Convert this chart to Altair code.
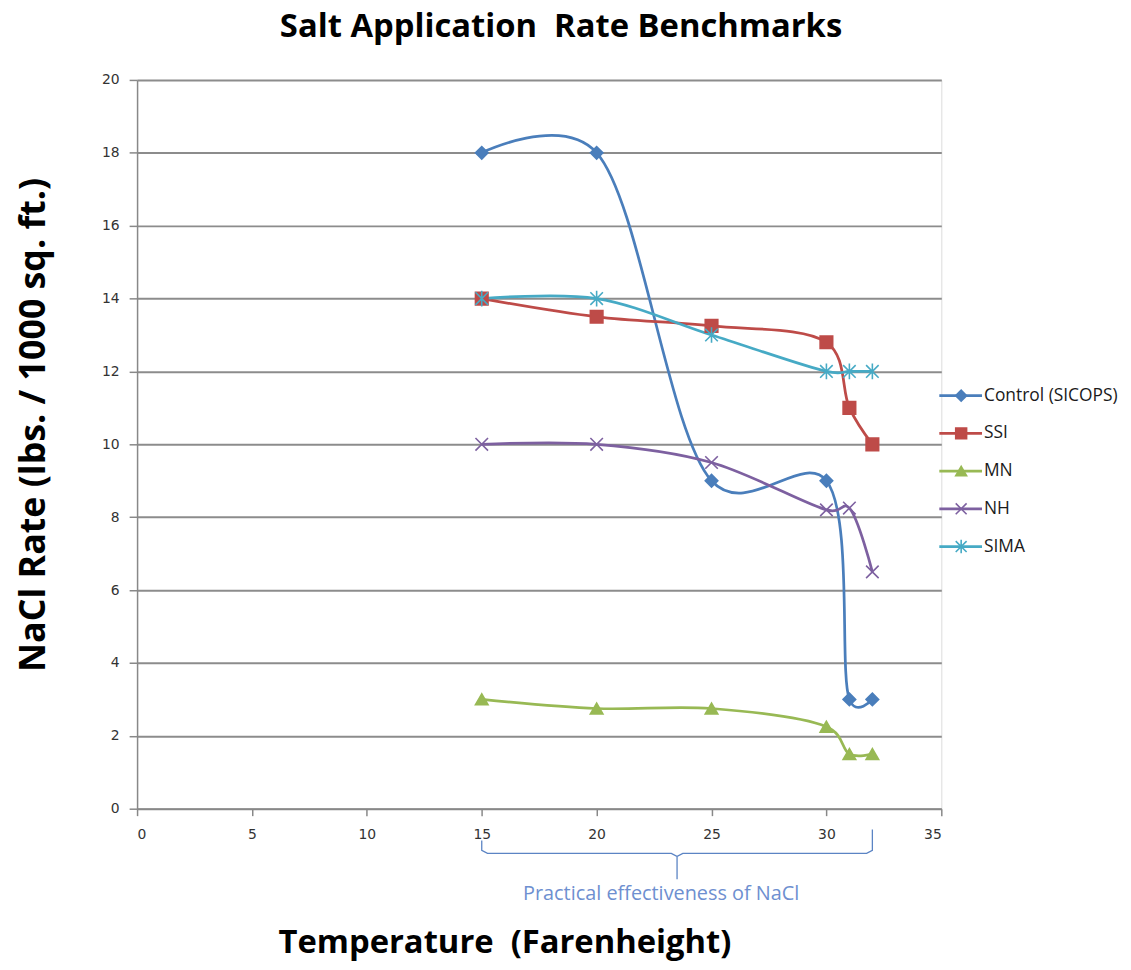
import altair as alt
import pandas as pd

# ---- data ----
temps = [15, 20, 25, 30, 31, 32]
series_names = ["Control (SICOPS)", "SSI", "MN", "NH", "SIMA"]
control = [18, 18, 9, 9, 3, 3]
ssi = [14, 13.5, 13.25, 12.8, 11, 10]
mn = [3, 2.75, 2.75, 2.25, 1.5, 1.5]
nh = [10, 10, 9.5, 8.2, 8.25, 6.5]
sima = [14, 14, 13, 12, 12, 12]
x_ticks = [0, 5, 10, 15, 20, 25, 30, 35]
y_ticks = [0, 2, 4, 6, 8, 10, 12, 14, 16, 18, 20]
annotation_text = "Practical effectiveness of NaCl"

colors = ["#4A7EBB", "#BE4B48", "#98B954", "#7D60A0", "#46AAC5"]
shapes = [
    "diamond",
    "square",
    "triangle-up",
    "M-1,-1L1,1M-1,1L1,-1",
    "M-1,-1L1,1M-1,1L1,-1M0,-1.25L0,1.25",
]

rows = []
for name, vals in zip(series_names, [control, ssi, mn, nh, sima]):
    for i, (t, v) in enumerate(zip(temps, vals)):
        rows.append({"series": name, "temp": t, "rate": v, "order": i})
df = pd.DataFrame(rows)

color_scale = alt.Scale(domain=series_names, range=colors)
shape_scale = alt.Scale(domain=series_names, range=shapes)

W, H = 810, 734
TITLE_FONT = "Open Sans"

base = alt.Chart(df)

x_enc = alt.X(
    "temp:Q",
    scale=alt.Scale(domain=[0, 35], nice=False, zero=False),
    axis=alt.Axis(
        values=x_ticks,
        grid=False,
        title="Temperature\u00a0 (Farenheight)",
        titleFont=TITLE_FONT,
        titleFontWeight="bold",
        titleFontSize=33,
        titleColor="#000000",
        titleX=370,
        titleY=145,
        titleAlign="center",
        titleAnchor="start",
        titleBaseline="alphabetic",
        labelFont="DejaVu Sans",
        labelFontSize=14,
        labelColor="#333333",
        tickSize=7,
        labelPadding=12,
        domainColor="#888888",
        tickColor="#888888",
        domainWidth=1.5,
        tickWidth=1.5,
    ),
)
y_enc = alt.Y(
    "rate:Q",
    scale=alt.Scale(domain=[0, 20], nice=False),
    axis=alt.Axis(
        values=y_ticks,
        grid=True,
        gridColor="#8C8C8C",
        gridWidth=2,
        title="NaCl Rate (lbs. / 1000 sq. ft.)",
        titleFont=TITLE_FONT,
        titleFontWeight="bold",
        titleFontSize=36,
        titleColor="#000000",
        titleAngle=-90,
        titleX=-93,
        titleY=347,
        titleAlign="center",
        titleAnchor="start",
        titleBaseline="alphabetic",
        labelFont="DejaVu Sans",
        labelFontSize=14,
        labelColor="#333333",
        tickSize=8,
        labelPadding=10,
        domainColor="#888888",
        tickColor="#888888",
        domainWidth=1.5,
        tickWidth=1.5,
    ),
)

lines = base.mark_line(interpolate="catmull-rom", tension=0.2, strokeWidth=2.75).encode(
    x=x_enc,
    y=y_enc,
    color=alt.Color("series:N", scale=color_scale, legend=None),
    order="order:Q",
)

points = base.mark_point(filled=False, opacity=1, strokeWidth=1.6, size=160).encode(
    x="temp:Q",
    y="rate:Q",
    color=alt.Color("series:N", scale=color_scale, legend=None),
    fill=alt.Fill("series:N", scale=color_scale, legend=None),
    shape=alt.Shape("series:N", scale=shape_scale, legend=None),
)

data_layer = alt.layer(lines, points)

# ---- manual legend (line + marker) ----
leg_df = pd.DataFrame({"series": series_names})
leg_y = alt.Y(
    "series:N",
    scale=alt.Scale(type="point", domain=series_names, range=[318, 470], padding=0),
    axis=None,
)
leg_base = alt.Chart(leg_df)
leg_rule = leg_base.mark_rule(strokeWidth=2.75).encode(
    x=alt.value(808), x2=alt.value(851), y=leg_y,
    color=alt.Color("series:N", scale=color_scale, legend=None),
)
leg_pts = leg_base.mark_point(filled=False, opacity=1, strokeWidth=1.6, size=120).encode(
    x=alt.value(830), y=leg_y,
    color=alt.Color("series:N", scale=color_scale, legend=None),
    fill=alt.Fill("series:N", scale=color_scale, legend=None),
    shape=alt.Shape("series:N", scale=shape_scale, legend=None),
)
leg_text = leg_base.mark_text(
    align="left", baseline="middle", font="Open Sans", fontSize=17.5, color="#1a1a1a"
).encode(x=alt.value(853), y=leg_y, text="series:N")

legend = alt.layer(leg_rule, leg_pts, leg_text)

# ---- brace annotation under the x-axis ----
x_lo, x_hi = min(temps), max(temps)
x_mid = (x_lo + x_hi) / 2
brace_df = pd.DataFrame(
    {
        "temp": [x_lo, x_lo, x_lo + 0.25, x_mid - 0.25, x_mid, x_mid, x_mid, x_mid + 0.25,
                 x_hi - 0.25, x_hi, x_hi],
        "off": [32, 42, 45, 45, 48, 71, 48, 45, 45, 42, 21],
        "k": list(range(11)),
    }
)
brace = alt.Chart(brace_df).transform_calculate(py="datum.off + %d" % H).mark_line(
    color="#5B84C4", strokeWidth=1.3
).encode(
    x="temp:Q",
    y=alt.Y("py:Q", scale=None, axis=None),
    order="k:Q",
)
ann_df = pd.DataFrame({"temp": [x_mid], "off": [92], "label": [annotation_text]})
ann = alt.Chart(ann_df).transform_calculate(py="datum.off + %d" % H).mark_text(
    font="Open Sans",
    fontSize=20,
    color="#6E8FD0",
    baseline="alphabetic",
    align="center",
    dx=-16,
).encode(
    x="temp:Q",
    y=alt.Y("py:Q", scale=None, axis=None),
    text="label:N",
)

chart = (
    alt.layer(data_layer, brace, ann, legend)
    .resolve_scale(y="independent")
    .properties(
        width=W,
        height=H,
        autosize=alt.AutoSizeParams(type="none"),
        padding={"left": 130, "top": 69, "right": 183, "bottom": 156},
        title=alt.TitleParams(
            "Salt Application\u00a0 Rate Benchmarks",
            font=TITLE_FONT,
            fontWeight="bold",
            fontSize=33,
            color="#000000",
            anchor="middle",
            dx=22,
            offset=29,
        ),
    )
    .configure_view(stroke=None)
    .configure(background="white")
)

chart.save("out.html", embed_options={"renderer": "svg", "actions": False})
